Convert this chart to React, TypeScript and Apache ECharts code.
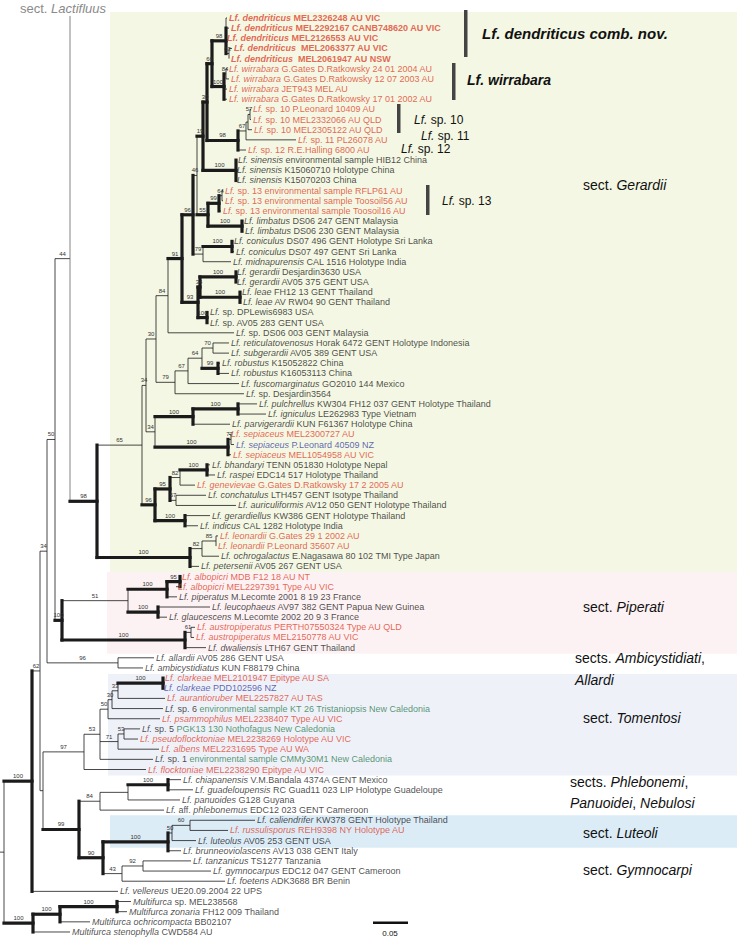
import React, { useEffect, useRef } from "react";
import * as echarts from "echarts";

// ---------- tips (top to bottom); *...* = italic, text after # takes the tip colour ----------
const TIP_LABELS: string[] = [
  "#*Lf. dendriticus* MEL2326248 AU VIC",
  "#*Lf. dendriticus* MEL2292167 CANB748620 AU VIC",
  "#*Lf. dendriticus* MEL2126553 AU VIC",
  "#*Lf. dendriticus*  MEL2063377 AU VIC",
  "#*Lf. dendriticus*  MEL2061947 AU NSW",
  "#*Lf. wirrabara* G.Gates D.Ratkowsky 24 01 2004 AU",
  "#*Lf. wirrabara* G.Gates D.Ratkowsky 12 07 2003 AU",
  "#*Lf. wirrabara* JET943 MEL AU",
  "#*Lf. wirrabara* G.Gates D.Ratkowsky 17 01 2002 AU",
  "#*Lf.* sp. 10 P.Leonard 10409 AU",
  "#*Lf.* sp. 10 MEL2332066 AU QLD",
  "#*Lf.* sp. 10 MEL2305122 AU QLD",
  "#*Lf.* sp. 11 PL26078 AU",
  "#*Lf.* sp. 12 R.E.Halling 6800 AU",
  "#*Lf. sinensis* environmental sample HIB12 China",
  "#*Lf. sinensis* K15060710 Holotype China",
  "#*Lf. sinensis* K15070203 China",
  "#*Lf.* sp. 13 environmental sample RFLP61 AU",
  "#*Lf.* sp. 13 environmental sample Toosoil56 AU",
  "#*Lf.* sp. 13 environmental sample Toosoil16 AU",
  "#*Lf. limbatus* DS06 247 GENT Malaysia",
  "#*Lf. limbatus* DS06 230 GENT Malaysia",
  "#*Lf. coniculus* DS07 496 GENT Holotype Sri Lanka",
  "#*Lf. coniculus* DS07 497 GENT Sri Lanka",
  "#*Lf. midnapurensis* CAL 1516 Holotype India",
  "#*Lf. gerardii* Desjardin3630 USA",
  "#*Lf. gerardii* AV05 375 GENT USA",
  "#*Lf. leae* FH12 13 GENT Thailand",
  "#*Lf. leae* AV RW04 90 GENT Thailand",
  "#*Lf.* sp. DPLewis6983 USA",
  "#*Lf.* sp. AV05 283 GENT USA",
  "#*Lf.* sp. DS06 003 GENT Malaysia",
  "#*Lf. reticulatovenosus* Horak 6472 GENT Holotype Indonesia",
  "#*Lf. subgerardii* AV05 389 GENT USA",
  "#*Lf. robustus* K15052822 China",
  "#*Lf. robustus* K16053113 China",
  "#*Lf. fuscomarginatus* GO2010 144 Mexico",
  "#*Lf.* sp. Desjardin3564",
  "#*Lf. pulchrellus* KW304 FH12 037 GENT Holotype Thailand",
  "#*Lf. igniculus* LE262983 Type Vietnam",
  "#*Lf. parvigerardii* KUN F61367 Holotype China",
  "#*Lf. sepiaceus* MEL2300727 AU",
  "#*Lf. sepiaceus* P.Leonard 40509 NZ",
  "#*Lf. sepiaceus* MEL1054958 AU VIC",
  "#*Lf. bhandaryi* TENN 051830 Holotype Nepal",
  "#*Lf. raspei* EDC14 517 Holotype Thailand",
  "#*Lf. genevievae* G.Gates D.Ratkowsky 17 2 2005 AU",
  "#*Lf. conchatulus* LTH457 GENT Isotype Thailand",
  "#*Lf. auriculiformis* AV12 050 GENT Holotype Thailand",
  "#*Lf. gerardiellus* KW386 GENT Holotype Thailand",
  "#*Lf. indicus* CAL 1282 Holotype India",
  "#*Lf. leonardii* G.Gates 29 1 2002 AU",
  "#*Lf. leonardii* P.Leonard 35607 AU",
  "#*Lf. ochrogalactus* E.Nagasawa 80 102 TMI Type Japan",
  "#*Lf. petersenii* AV05 267 GENT USA",
  "#*Lf. albopicri* MDB F12 18 AU NT",
  "#*Lf. albopicri* MEL2297391 Type AU VIC",
  "#*Lf. piperatus* M.Lecomte 2001 8 19 23 France",
  "#*Lf. leucophaeus* AV97 382 GENT Papua New Guinea",
  "#*Lf. glaucescens* M.Lecomte 2002 20 9 3 France",
  "#*Lf. austropiperatus* PERTH07550324 Type AU QLD",
  "#*Lf. austropiperatus* MEL2150778 AU VIC",
  "#*Lf. dwaliensis* LTH67 GENT Thailand",
  "#*Lf. allardii* AV05 286 GENT USA",
  "#*Lf. ambicystidiatus* KUN F88179 China",
  "#*Lf. clarkeae* MEL2101947 Epitype AU SA",
  "#*Lf. clarkeae* PDD102596 NZ",
  "#*Lf. aurantioruber* MEL2257827 AU TAS",
  "*Lf.* sp. 6 #environmental sample KT 26 Tristaniopsis New Caledonia",
  "#*Lf. psammophilus* MEL2238407 Type AU VIC",
  "*Lf.* sp. 5 #PGK13 130 Nothofagus New Caledonia",
  "#*Lf. pseudoflocktoniae* MEL2238269 Holotype AU VIC",
  "#*Lf. albens* MEL2231695 Type AU WA",
  "*Lf.* sp. 1 #environmental sample CMMy30M1 New Caledonia",
  "#*Lf. flocktoniae* MEL2238290 Epitype AU VIC",
  "#*Lf. chiapanensis* V.M.Bandala 4374A GENT Mexico",
  "#*Lf. guadeloupensis* RC Guad11 023 LIP Holotype Guadeloupe",
  "#*Lf. panuoides* G128 Guyana",
  "#*Lf.* aff. *phlebonemus* EDC12 023 GENT Cameroon",
  "#*Lf. caliendrifer* KW378 GENT Holotype Thailand",
  "#*Lf. russulisporus* REH9398 NY Holotype AU",
  "#*Lf. luteolus* AV05 253 GENT USA",
  "#*Lf. brunneoviolascens* AV13 038 GENT Italy",
  "#*Lf. tanzanicus* TS1277 Tanzania",
  "#*Lf. gymnocarpus* EDC12 047 GENT Cameroon",
  "#*Lf. foetens* ADK3688 BR Benin",
  "#*Lf. vellereus* UE20.09.2004 22 UPS",
  "#*Multifurca* sp. MEL238568",
  "#*Multifurca zonaria* FH12 009 Thailand",
  "#*Multifurca ochricompacta* BB02107",
  "#*Multifurca stenophylla* CWD584 AU",
];

// k black, r red (Australasian), b blue (NZ), g green (New Caledonia), R bold red
const TIP_COLORS: string[] = [
  "R", "R", "R", "R", "R", "r", "r", "r", "r", "r",
  "r", "r", "r", "r", "k", "k", "k", "r", "r", "r",
  "k", "k", "k", "k", "k", "k", "k", "k", "k", "k",
  "k", "k", "k", "k", "k", "k", "k", "k", "k", "k",
  "k", "r", "b", "r", "k", "k", "r", "k", "k", "k",
  "k", "r", "r", "k", "k", "r", "r", "k", "k", "k",
  "r", "r", "k", "k", "k", "r", "b", "r", "g", "r",
  "g", "r", "r", "g", "r", "k", "k", "k", "k", "k",
  "r", "k", "k", "k", "k", "k", "k", "k", "k", "k", "k",
];

// depth of each tip (end of its branch), in figure units (0.05 subst./site = 34 units)
const TIP_X: number[] = [
  227, 229, 225, 232, 229, 227, 229, 227, 227, 251,
  251, 252, 296, 246, 236, 235, 235, 223, 223, 221,
  242, 243, 232, 234, 231, 235, 235, 240, 241, 208,
  208, 234, 229, 229, 220, 229, 239, 244, 257, 266,
  230, 229, 234, 231, 210, 215, 195, 206, 236, 210,
  198, 218, 216, 219, 199, 180, 176, 177, 210, 167,
  195, 194, 206, 154, 143, 163, 162, 165, 163, 160,
  140, 138, 159, 153, 146, 181, 193, 180, 164, 255,
  228, 196, 181, 191, 211, 225, 118, 131, 127, 90, 70,
];

// collapsed sect. Lactifluus lineage
const LACT_X = 71;
const LACT_Y = -0.2;

// ---------- topology: (children)support!@depth ; "!" = bold branch ----------
const D = "((0,1,2)@226,(3,4)63@229)98!@226";
const W = "((5,6)84@226,7,8)100!@224";
const N66 = `(${D},${W})66!@212`;
const SP10 = "((9,10)57@250,11)@248";
const N98B = `((${SP10},12)67@246,13)98!@238`;
const N30 = `(${N66},${N98B})30!@207`;
const N19 = `(${N30},(14,15,16)100!@236)19!@203`;
const N55 = "(((17,18)64@222,19)99!@219,(20,21)100!@242)55!@208";
const N46 = `(${N19},${N55})46@197`;
const N79 = "((22,23)100!@232,24)79@203";
const N96 = `(${N46},${N79})96!@193`;
const N93 = "(((25,26)100!@236,(27,28)100!@240)34!@200,(29,30)100!@207)93!@198";
const N84 = `((${N96},${N93})91!@182,31)84@168`;
const N79C = "((((32,33)70@213,(34,35)99!@218)64@202,36)67@188,37)79@175";
const N30B = `(${N84},${N79C})30@156`;
const N34B = "(((38,39)100!@238,40)100!@193,((41,42)77@231,43)100!@228)34@155";
const NA = `(${N30B},${N34B})34@146`;
const N96B = "((((44,45)100!@207,46)82@180,(47,48)57@176)95!@170,(49,50)100!@185)96!@155";
const N100E = "((((51,52)85@216,53)82@202),54)100!@190";
const GERARDII = `((${NA},${N96B})65@142,${N100E})98!@97`;
const PIPERATI = "((((55,56)95!@180,57)100!@167,(58,59)100!@158)51@128,((60,61)61@191,62)100!@185)100!@62";
const ALLARDI = "(63,64)96@118";
const TOMENTOSI = "((((((65,66)100!@163,67)33@118,68)30@112,69)50@108,((70,71)53@124,72)71@118,73)53@100,74)97@84";
const PHLEB = "(((75,76)100!@168,77)@128,78)84@100";
const LUTEOLI = "(((((79,80)60@190,81)50@172,82)100!@168,((83,84)92@143,85)43@122)90!@103)";
const UPPER = `(((L,${GERARDII})44@70,${PIPERATI})50@55,${ALLARDI})34@47`;
const LOWER = `(${TOMENTOSI},(${PHLEB},${LUTEOLI})99!@79)@43`;
const LACTIFLUUS = `((${UPPER},${LOWER})62@40,86)100!@32`;
const MULTIFURCA = "(((87,88)100!@117,89)100!@60,90)100!@33";
const TREE = `(${LACTIFLUUS},${MULTIFURCA})@4`;

// ---------- annotations ----------
const SECTION_BOXES: [number, number, number, string][] = [
  [110, -0.6, 54.55, "#f4f7e3"],
  [107, 54.55, 62.6, "#fdf2f3"],
  [108, 64.6, 74.6, "#eff1f9"],
  [110, 78.5, 81.7, "#dcecf7"],
];

type TNode = {
  x: number;
  y: number;
  children: TNode[];
  support: string;
  thick: boolean;
  tip: number;
};

function parseTree(src: string): TNode {
  const s = src.replace(/\s+/g, "");
  let i = 0;
  const num = () => {
    const st = i;
    while (i < s.length && /[0-9.]/.test(s[i])) i++;
    return s.slice(st, i);
  };
  const node = (): TNode => {
    if (s[i] === "(") {
      i++;
      const ch: TNode[] = [node()];
      while (s[i] === ",") {
        i++;
        ch.push(node());
      }
      i++;
      const sup = num();
      let thick = false;
      if (s[i] === "!") {
        thick = true;
        i++;
      }
      let x = NaN;
      if (s[i] === "@") {
        i++;
        x = parseFloat(num());
      }
      if (ch.length === 1 && isNaN(x)) return ch[0];
      return {
        x,
        y: (ch[0].y + ch[ch.length - 1].y) / 2,
        children: ch,
        support: sup,
        thick,
        tip: -1,
      };
    }
    if (s[i] === "L") {
      i++;
      return { x: LACT_X, y: LACT_Y, children: [], support: "", thick: false, tip: -2 };
    }
    const t = parseInt(num(), 10);
    return { x: TIP_X[t], y: t, children: [], support: "", thick: false, tip: t };
  };
  return node();
}

type Flat = { n: TNode; px: number };
function flatten(root: TNode): Flat[] {
  const out: Flat[] = [];
  const walk = (n: TNode, px: number) => {
    out.push({ n, px });
    n.children.forEach((c) => walk(c, n.x));
  };
  walk(root, root.x - 4);
  return out;
}

const COLOR_MAP: Record<string, string> = {
  k: "#1b1b1b",
  r: "#e0412c",
  R: "#e0412c",
  b: "#3b3f9e",
  g: "#2e7d4f",
};

function richFor(i: number): string {
  const c = TIP_COLORS[i];
  const [pre, post] = TIP_LABELS[i].split("#");
  let out = "";
  const emit = (txt: string, col: string, startItalic: boolean) => {
    txt.split("*").forEach((p, k) => {
      if (!p) return;
      const italic = (k % 2 === 1) !== !startItalic ? true : false;
      out += `{${(k % 2 === 1 ? "i" : "n") + col}|${p}}`;
      void italic;
    });
  };
  emit(pre, "k", false);
  // count asterisks in the prefix to know whether the suffix starts inside italics
  emit(post || "", c, false);
  return out;
}

function buildRich() {
  const rich: Record<string, any> = {};
  Object.keys(COLOR_MAP).forEach((c) => {
    const bold = c === "R";
    const base = {
      fontWeight: bold ? "bold" : "normal",
      color: COLOR_MAP[c],
      fontSize: 9,
      fontFamily: "Liberation Sans, Arial, sans-serif",
    };
    rich["i" + c] = { ...base, fontStyle: "italic" };
    rich["n" + c] = { ...base, fontStyle: "normal" };
  });
  return rich;
}

export default function App() {
  const ref = useRef<HTMLDivElement>(null);
  useEffect(() => {
    if (!ref.current) return;
    const chart = echarts.init(ref.current, undefined, { renderer: "svg" });
    const root = parseTree(TREE);
    const flat = flatten(root);
    const font = "Liberation Sans, Arial, sans-serif";

    const branchData = flat.map((f, k) => [f.n.x, f.n.y, k]);
    const tipData = TIP_X.map((x, i) => [x, i]);

    const sectText = (
      x: number,
      y: number,
      parts: [string, boolean][],
      size = 14,
      bold = false,
      fill = "#111"
    ) => {
      let t = "";
      parts.forEach(([p, it]) => {
        t += `{${it ? "i" : "n"}|${p}}`;
      });
      return {
        type: "text",
        x,
        y,
        z: 20,
        style: {
          text: t,
          verticalAlign: "middle",
          rich: {
            i: { fontStyle: "italic", fontWeight: bold ? "bold" : "normal", fontSize: size, fontFamily: font, fill },
            n: { fontStyle: "normal", fontWeight: bold ? "bold" : "normal", fontSize: size, fontFamily: font, fill },
          },
        },
      };
    };

    const bar = (x: number, y: number, h: number) => ({
      type: "rect",
      z: 20,
      shape: { x, y, width: 3.5, height: h },
      style: { fill: "#444" },
    });

    const option: any = {
      animation: false,
      grid: { left: 0, right: 0, top: 0, bottom: 0 },
      xAxis: { type: "value", min: 0, max: 737, show: false },
      yAxis: { type: "value", min: -1.77, max: 90.69, inverse: true, show: false },
      series: [
        {
          type: "custom",
          name: "sections",
          silent: true,
          data: SECTION_BOXES.map((b, k) => [b[0], b[1], b[2], k]),
          encode: { x: 0, y: 1 },
          renderItem: (params: any, api: any) => {
            const b = SECTION_BOXES[params.dataIndex];
            const p0 = api.coord([b[0], b[1]]);
            const p1 = api.coord([737, b[2]]);
            return {
              type: "rect",
              shape: { x: p0[0], y: p0[1], width: p1[0] - p0[0], height: p1[1] - p0[1] },
              style: { fill: b[3] },
            };
          },
          z: 1,
        },
        {
          type: "custom",
          name: "branches",
          silent: true,
          data: branchData,
          encode: { x: 0, y: 1 },
          renderItem: (params: any, api: any) => {
            const f = flat[params.dataIndex];
            const n = f.n;
            const lw = n.thick ? 3.2 : 0.8;
            const col = "#1b1b1b";
            const p = api.coord([n.x, n.y]);
            const pp = api.coord([f.px, n.y]);
            const kids: any[] = [];
            if (n.tip !== -2) {
              kids.push({
                type: "line",
                shape: { x1: pp[0], y1: pp[1], x2: p[0], y2: p[1] },
                style: { stroke: col, lineWidth: lw, lineCap: n.thick ? "square" : "butt" },
              });
            }
            if (n.children.length) {
              const ys = n.children.map((c) => c.y);
              const a = api.coord([n.x, Math.min(...ys)]);
              const b = api.coord([n.x, Math.max(...ys)]);
              const toLact = n.children.some((c) => c.tip === -2);
              kids.push({
                type: "line",
                shape: { x1: a[0], y1: a[1], x2: b[0], y2: b[1] },
                style: {
                  stroke: toLact ? "#666" : col,
                  lineWidth: lw,
                  lineCap: n.thick ? "square" : "butt",
                },
              });
            }
            if (n.support) {
              kids.push({
                type: "text",
                style: {
                  text: n.support,
                  x: (pp[0] + p[0]) / 2,
                  y: p[1] - 2,
                  align: "center",
                  verticalAlign: "bottom",
                  font: "6px " + font,
                  fill: "#333",
                },
              });
            }
            return { type: "group", children: kids };
          },
          z: 3,
        },
        {
          type: "scatter",
          name: "tips",
          silent: true,
          symbolSize: 0,
          data: tipData,
          label: {
            show: true,
            position: "right",
            distance: 2,
            formatter: (p: any) => richFor(p.dataIndex),
            rich: buildRich(),
          },
          z: 4,
        },
      ],
      graphic: [
        sectText(20, 8, [["sect. ", false], ["Lactifluus", true]], 13, false, "#8a8a8a"),
        bar(464, 10, 47),
        bar(452, 63, 37),
        bar(397, 104, 29),
        bar(426, 185, 30),
        sectText(482, 33, [["Lf. dendriticus comb. nov.", true]], 15, true),
        sectText(467, 80, [["Lf. wirrabara", true]], 14, true),
        sectText(414, 120, [["Lf.", true], [" sp. 10", false]], 12),
        sectText(421, 136, [["Lf.", true], [" sp. 11", false]], 12),
        sectText(401, 149, [["Lf.", true], [" sp. 12", false]], 12),
        sectText(442, 201, [["Lf.", true], [" sp. 13", false]], 12),
        sectText(583, 185, [["sect. ", false], ["Gerardii", true]]),
        sectText(583, 607, [["sect. ", false], ["Piperati", true]]),
        sectText(575, 658, [["sects. ", false], ["Ambicystidiati", true], [",", false]]),
        sectText(575, 680, [["Allardi", true]]),
        sectText(583, 718, [["sect. ", false], ["Tomentosi", true]]),
        sectText(570, 782, [["sects. ", false], ["Phlebonemi", true], [",", false]]),
        sectText(570, 803, [["Panuoidei", true], [", ", false], ["Nebulosi", true]]),
        sectText(583, 833, [["sect. ", false], ["Luteoli", true]]),
        sectText(583, 870, [["sect. ", false], ["Gymnocarpi", true]]),
        { type: "rect", z: 20, shape: { x: 373, y: 921.5, width: 35, height: 2.5 }, style: { fill: "#111" } },
        {
          type: "text",
          x: 390,
          y: 933,
          z: 20,
          style: { text: "0.05", font: "8px " + font, fill: "#111", align: "center", verticalAlign: "middle" },
        },
      ],
    };
    chart.setOption(option);
    return () => chart.dispose();
  }, []);
  return (
    <div
      ref={ref}
      style={{ position: "fixed", left: 0, top: 0, width: 737, height: 939, background: "#fff" }}
    />
  );
}
